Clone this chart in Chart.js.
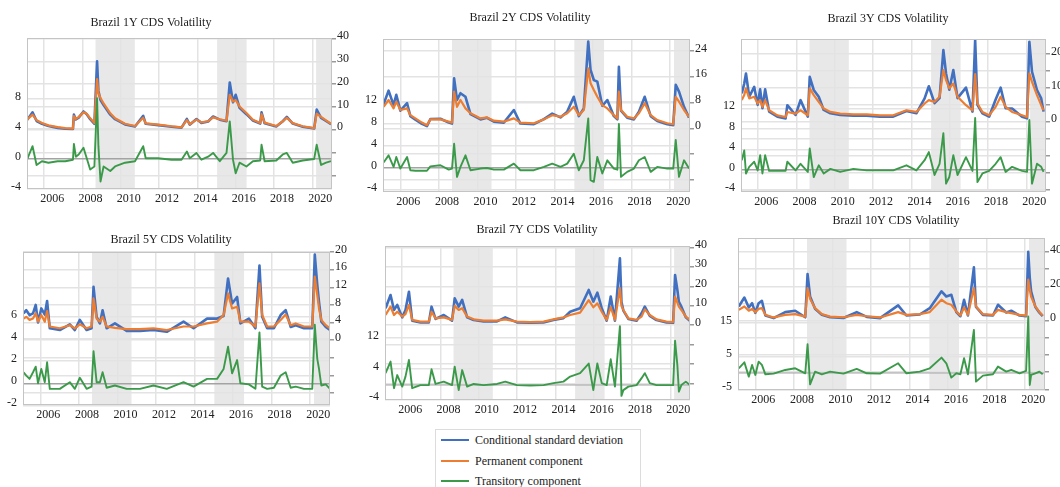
<!DOCTYPE html>
<html><head><meta charset="utf-8">
<script src="https://cdn.jsdelivr.net/npm/chart.js@4.4.1/dist/chart.umd.min.js"></script>
<style>
html,body{margin:0;padding:0;width:1060px;height:487px;overflow:hidden;background:#fff;}
canvas{position:absolute;}
#legend{position:absolute;left:435px;top:429px;width:204px;height:70px;border:1px solid #dcdcdc;background:#fff;font-family:'Liberation Serif','Times New Roman',serif;font-size:12px;color:#222;}
.row{position:absolute;left:0;width:200px;height:16px;}
.sw{position:absolute;left:5px;width:28px;height:2px;top:7px;}
.lab{position:absolute;left:39px;top:0;line-height:16px;white-space:nowrap;}
</style></head><body>
<div id="legend"></div>
<script>
// ---------- DATA ----------
const seriesNames = ['Conditional standard deviation', 'Permanent component', 'Transitory component'];
const xTickYears = [2006, 2008, 2010, 2012, 2014, 2016, 2018, 2020];
const shadedPeriods = [[2008.68, 2010.73], [2015.03, 2016.57], [2020.2, 2021.2]];

// Brazil 1Y
const d1 = [2005.10,2005.39,2005.60,2005.88,2006.22,2006.70,2007.10,2007.50,2007.55,2007.65,2007.80,2008.05,2008.22,2008.40,2008.62,2008.76,2008.83,2008.94,2009.10,2009.45,2009.70,2010.22,2010.74,2011.17,2011.30,2011.95,2012.65,2013.17,2013.45,2013.60,2013.95,2014.21,2014.56,2014.82,2015.17,2015.52,2015.69,2015.86,2016.00,2016.20,2016.56,2016.90,2017.28,2017.35,2017.51,2018.12,2018.46,2018.67,2018.98,2019.50,2020.10,2020.23,2020.46,2020.72,2020.98];
const cond1 = [4.2,7.6,3.8,2.6,1.6,0.8,0.4,0.3,6.6,4.5,5.3,8.0,6.8,4.6,2.6,30,17,13.0,10.8,6.6,4.6,2.3,1.4,6.1,2.6,2.0,1.3,0.9,4.7,2.2,4.7,3.0,3.6,5.8,4.4,3.7,20.7,12.0,15.3,9.6,6.8,4.0,2.7,7.6,2.8,1.4,3.7,5.6,2.7,1.3,0.5,8.8,5.2,3.8,2.4];
const perm1 = [4.4,6.6,4.2,2.9,1.9,1.1,0.7,0.5,6.0,4.8,5.5,7.6,7.0,5.0,2.9,22.2,16,13.9,11.5,7.2,5.0,2.6,1.6,5.2,2.8,2.2,1.5,1.0,4.2,2.4,4.4,3.2,3.7,5.4,4.6,3.9,15.3,12.4,13.0,10.2,7.3,4.4,2.9,6.8,3.1,1.6,3.7,5.2,2.9,1.5,0.7,7.0,5.6,4.1,2.6];
const trans1 = [-0.1,1.7,-0.8,-0.3,-0.5,-0.3,-0.3,-0.1,2.0,0.3,0.6,1.5,0.1,-1.4,-1.0,8.1,1.7,-3.0,-1.0,-1.6,-1.0,-0.5,-0.3,1.7,0.1,0.1,-0.1,-0.1,1.0,0.1,0.8,-0.1,0.3,0.8,-0.3,0.8,5.0,-0.1,-1.9,-0.5,-1.0,-0.3,-0.2,1.9,-0.3,-0.2,0.6,0.8,-0.5,-0.2,0.0,1.9,-0.8,-0.5,-0.3];
const leftLabels1 = [-4, 0, 4, 8];
const rightTicks1 = [-20, -10, 0, 10, 20, 30, 40];
const rightLabels1 = [0, 10, 20, 30, 40];

// Brazil 2Y
const d2 = [2005.13,2005.39,2005.65,2005.79,2006.00,2006.35,2006.52,2006.78,2007.12,2007.38,2007.56,2008.08,2008.51,2008.68,2008.79,2008.94,2009.12,2009.38,2009.64,2010.16,2010.50,2010.85,2011.37,2011.89,2012.23,2012.93,2013.45,2013.88,2014.31,2014.66,2015.00,2015.26,2015.52,2015.75,2015.87,2016.04,2016.22,2016.48,2016.74,2017.08,2017.26,2017.34,2017.45,2017.77,2018.12,2018.38,2018.68,2018.99,2019.33,2019.85,2020.16,2020.29,2020.46,2020.72,2020.98];
const cond2 = [7.5,11.7,7.2,10.4,5.5,7.8,3.8,2.7,1.4,0.7,2.9,3.0,1.8,1.5,15.5,8.8,10.9,9.8,4.4,2.8,3.3,2.1,1.8,5.7,1.5,1.3,2.9,4.6,3.4,5.2,9.8,3.8,6.2,26.9,18.1,15.0,14.5,7.0,8.8,3.8,2.8,19.1,5.5,3.3,2.8,5.2,9.8,3.8,2.3,1.3,1.0,13.5,11.4,6.7,3.3];
const perm2 = [6.7,8.8,6.2,8.3,5.7,6.2,4.1,3.1,1.8,1.0,2.8,2.8,2.1,1.8,11.4,6.7,8.8,6.2,4.7,3.1,3.4,2.4,2.1,3.1,1.8,1.6,2.8,4.1,3.6,4.7,6.7,4.1,5.7,18.6,14.0,11.9,9.8,7.2,6.2,4.1,3.1,11.4,5.7,3.6,3.1,4.7,7.8,4.1,2.6,1.6,1.3,9.8,8.3,5.7,3.6];
const trans2 = [1.0,2.3,0.2,2.0,-0.1,2.0,-0.4,-0.5,-0.5,-0.5,0.3,0.5,-0.3,-0.1,4.4,-1.6,0.2,2.3,-0.4,-0.1,0.0,-0.3,-0.3,0.8,-0.4,-0.4,0.2,0.8,0.2,0.8,2.6,-0.4,1.4,9.0,-2.2,-2.5,2.0,-1.0,1.4,-0.1,-0.3,8.0,-1.6,-0.7,-0.1,1.4,2.0,-0.7,0.2,-0.1,-0.1,5.1,-1.6,1.4,-0.1];
const leftLabels2 = [-4, 0, 4, 8, 12];
const rightTicks2 = [-16, -8, 0, 8, 16, 24];
const rightLabels2 = [0, 8, 16, 24];

// Brazil 3Y
const d3 = [2005.14,2005.27,2005.36,2005.53,2005.79,2005.97,2006.10,2006.22,2006.36,2006.57,2007.00,2007.43,2007.52,2007.95,2008.21,2008.59,2008.69,2008.90,2009.16,2009.42,2009.77,2010.28,2010.97,2011.66,2012.36,2013.05,2013.74,2014.26,2014.69,2014.91,2015.21,2015.47,2015.67,2015.81,2015.98,2016.19,2016.41,2016.85,2017.19,2017.33,2017.45,2017.71,2018.06,2018.40,2018.66,2018.92,2019.26,2019.78,2020.04,2020.16,2020.30,2020.56,2020.78,2020.90];
const cond3 = [8.4,11.3,14.3,7.4,10.3,5.0,9.6,4.0,9.6,3.0,1.5,1.0,4.9,2.0,6.4,1.5,13.3,9.4,7.4,3.5,2.5,2.0,1.8,1.8,1.5,1.5,3.2,2.5,6.9,10.5,5.5,7.0,21.2,14.3,9.5,15.3,7.0,10.1,3.0,24.2,5.0,2.5,1.5,6.6,10.1,4.0,3.9,1.5,1.0,23.7,14.8,9.4,6.9,3.0];
const perm3 = [6.4,7.9,9.9,6.9,7.4,5.4,6.4,4.4,6.4,3.4,1.9,1.4,2.9,2.4,3.4,1.9,9.9,7.9,5.9,3.9,2.9,2.4,2.2,2.2,1.9,1.9,3.4,2.9,5.4,6.4,5.9,7.4,15.3,12.3,9.9,11.3,7.4,4.9,3.4,14.1,5.4,2.9,1.9,4.4,7.4,4.4,2.9,1.9,1.4,14.3,11.8,7.9,4.9,3.4];
const trans3 = [1.9,3.8,-0.7,0.6,1.6,-0.1,2.9,-0.7,2.9,-0.2,-0.2,-0.2,1.6,-0.1,1.2,-0.4,4.2,-1.4,0.9,-0.7,0.2,-0.4,0.2,-0.1,-0.1,-0.1,0.9,-0.1,1.9,3.5,-1.0,1.2,7.2,-2.7,-1.4,2.9,-1.0,2.5,-0.2,10.2,-2.4,-0.7,-0.2,1.2,2.5,-0.4,0.6,-0.2,-0.4,9.8,-2.7,1.2,0.6,-0.4];
const leftLabels3 = [-4, 0, 4, 8, 12];
const rightTicks3 = [-20, -15, -10, -5, 0, 5, 10, 15, 20];
const rightLabels3 = [0, 10, 20];

// Brazil 5Y
const d4 = [2005.13,2005.27,2005.44,2005.62,2005.76,2005.88,2006.05,2006.23,2006.35,2006.49,2007.01,2007.53,2007.79,2008.05,2008.40,2008.66,2008.76,2008.92,2009.09,2009.23,2009.44,2009.87,2010.48,2011.17,2011.87,2012.56,2013.43,2013.95,2014.65,2015.17,2015.51,2015.74,2015.95,2016.21,2016.38,2016.82,2017.16,2017.37,2017.51,2017.77,2018.12,2018.47,2018.73,2018.99,2019.25,2019.68,2020.11,2020.24,2020.37,2020.46,2020.58,2020.81,2021.03];
const cond4 = [6.1,6.8,5.7,6.1,8.0,4.0,7.2,5.8,8.9,2.7,2.3,3.6,2.3,4.6,2.3,2.7,12.1,5.3,3.8,6.8,2.7,3.8,2.1,2.1,2.3,1.9,4.2,2.7,4.9,4.9,5.5,14.0,8.3,9.8,3.8,4.9,2.7,16.9,5.3,2.7,2.7,5.7,6.8,3.0,3.4,2.7,2.7,19.4,12.5,8.7,4.2,3.0,2.3];
const perm4 = [4.9,5.3,4.6,4.9,6.1,4.2,5.7,4.2,6.6,3.1,2.7,3.4,2.7,3.6,2.7,3.1,9.5,4.9,4.2,5.3,3.1,2.8,2.5,2.5,2.7,2.3,3.1,3.1,3.8,4.2,5.7,10.6,7.2,7.6,4.2,4.2,3.1,12.9,5.7,3.1,3.1,4.6,5.8,3.4,3.8,3.1,3.1,14.4,10.2,7.2,4.6,3.4,2.7];
const trans4 = [1.0,0.7,0.4,1.0,1.5,0.0,1.3,0.1,1.9,-0.5,-0.5,0.1,-0.5,0.5,-0.5,-0.3,2.9,0.1,0.1,1.0,-0.4,-0.2,-0.5,-0.5,-0.2,-0.5,0.1,-0.3,0.4,0.4,1.3,3.3,0.9,2.1,0.0,-0.1,-0.5,4.6,-0.3,-0.5,-0.4,0.7,1.0,-0.4,-0.3,-0.5,-0.5,5.3,2.2,1.3,-0.2,-0.1,-0.5];
const leftLabels4 = [-2, 0, 2, 4, 6];
const rightTicks4 = [-12, -8, -4, 0, 4, 8, 12, 16, 20];
const rightLabels4 = [0, 4, 8, 12, 16, 20];

// Brazil 7Y
const d5 = [2005.13,2005.39,2005.57,2005.74,2006.00,2006.17,2006.35,2006.52,2006.95,2007.39,2007.53,2007.74,2008.17,2008.60,2008.74,2008.95,2009.13,2009.39,2009.73,2010.25,2010.95,2011.38,2011.99,2012.68,2013.38,2013.90,2014.42,2014.77,2015.29,2015.74,2015.98,2016.19,2016.42,2016.68,2016.89,2017.11,2017.37,2017.45,2017.55,2017.81,2018.24,2018.50,2018.67,2018.93,2019.28,2019.80,2020.15,2020.25,2020.37,2020.45,2020.58,2020.81,2021.02];
const cond5 = [8.7,15.5,7.8,10.4,4.0,7.8,17.2,2.3,1.4,1.4,9.5,3.2,5.2,2.3,13.8,9.5,13.0,4.0,2.6,1.9,1.9,4.0,1.4,1.2,1.4,2.7,3.6,6.9,8.7,18.1,12.1,16.7,8.7,2.3,14.7,2.3,34.4,12.0,7.5,3.2,2.3,6.1,9.5,4.8,2.6,1.4,1.2,25.8,18.1,12.0,9.5,4.0,2.3];
const perm5 = [5.2,9.5,5.2,6.9,4.4,5.7,10.4,2.7,1.8,1.8,6.9,3.5,4.0,2.7,9.9,7.8,8.7,4.4,3.0,2.3,2.3,3.0,1.8,1.6,1.8,3.0,4.0,5.2,6.4,12.9,9.2,11.2,6.9,2.7,9.2,2.7,19.0,10.0,7.8,3.5,2.7,4.4,8.1,5.2,3.0,1.8,1.6,14.7,11.6,9.5,7.8,4.4,2.7];
const trans5 = [2.9,5.9,-1.0,2.4,-0.6,2.0,6.3,-1.0,-0.2,-0.2,3.9,0.1,0.7,-0.2,4.6,-1.5,3.7,-0.6,0.1,-0.2,0.1,0.7,-0.2,-0.3,-0.2,0.3,0.7,2.0,2.9,5.4,-1.5,5.4,0.3,-0.2,6.5,-0.6,15.1,-3.0,-1.5,-0.6,-0.2,1.6,2.9,0.3,-0.2,-0.2,-0.2,11.3,5.0,-1.9,-0.2,0.7,-0.2];
const leftLabels5 = [-4, 4, 12];
const rightTicks5 = [-30, -20, -10, 0, 10, 20, 30, 40];
const rightLabels5 = [0, 10, 20, 30, 40];

// Brazil 10Y
const d6 = [2005.14,2005.43,2005.66,2005.83,2006.00,2006.17,2006.34,2006.52,2006.95,2007.55,2008.07,2008.59,2008.71,2008.84,2009.10,2009.45,2009.88,2010.57,2011.26,2011.78,2012.47,2013.41,2013.84,2014.53,2015.05,2015.66,2015.91,2016.17,2016.43,2016.64,2016.83,2017.03,2017.34,2017.45,2017.81,2018.33,2018.59,2019.02,2019.28,2019.71,2020.05,2020.16,2020.24,2020.31,2020.53,2020.74,2020.91];
const cond6 = [8.3,13.5,7.7,10.2,4.6,10.2,11.6,3.0,1.5,5.0,5.8,2.0,27.2,14.1,7.0,3.4,2.0,1.6,5.0,2.2,1.5,8.9,3.0,3.6,7.3,17.1,14.1,15.1,5.0,2.6,12.2,3.0,31.1,8.0,3.4,3.0,9.3,4.8,5.8,3.0,2.6,40.1,25.0,17.1,8.0,4.7,2.6];
const perm6 = [6.3,8.3,5.8,6.9,5.0,6.9,7.3,3.4,1.9,3.4,3.8,2.4,19.0,12.8,7.3,3.8,2.4,2.0,3.4,2.6,1.9,5.0,3.4,3.8,5.0,12.2,10.2,9.3,5.4,3.0,7.7,3.4,19.0,8.3,3.8,3.4,6.3,5.0,4.4,3.4,3.0,23.9,18.0,14.1,8.3,5.0,3.0];
const trans6 = [1.4,3.2,-1.1,2.4,-0.6,3.4,2.4,-0.4,-0.2,0.9,1.4,-0.1,8.6,-3.4,0.4,-0.4,0.4,-0.2,1.2,-0.1,-0.2,2.9,-0.1,0.4,1.4,4.6,2.9,-1.4,-0.1,-0.4,4.4,-0.4,12.9,-2.6,-0.8,-0.4,1.9,0.4,0.9,-0.1,0.6,16.9,-3.6,-0.6,-0.1,0.4,-0.4];
const leftLabels6 = [-5, 5, 15];
const rightTicks6 = [-40, -30, -20, -10, 0, 10, 20, 30, 40];
const rightLabels6 = [0, 20, 40];

// ---------- STYLE / LAYOUT ----------
const COLORS = ['#4170c0', '#ed7d31', '#3b9a4a'];
const FONT = "'Liberation Serif', 'Times New Roman', serif";
const TEXT = '#222';
const GRID = '#e3e3e3';
const ZERO = '#a3a3a3';
const LW = 22, RW = 30, XH = 22;

const panels = [
  {title:'Brazil 1Y CDS Volatility', tx:151, ty:23, L:27, T:38, R:332, B:189,
   dates:d1, cond:cond1, perm:perm1, trans:trans1, lmin:-4, lmax:16.1, lLab:leftLabels1, rmin:-26, rmax:40.2, rTicks:rightTicks1, rLab:rightLabels1},
  {title:'Brazil 2Y CDS Volatility', tx:530, ty:18, L:383, T:39, R:690, B:192,
   dates:d2, cond:cond2, perm:perm2, trans:trans2, lmin:-4.35, lmax:23.4, lLab:leftLabels2, rmin:-19.7, rmax:27.7, rTicks:rightTicks2, rLab:rightLabels2},
  {title:'Brazil 3Y CDS Volatility', tx:888, ty:19, L:741, T:39, R:1046, B:192,
   dates:d3, cond:cond3, perm:perm3, trans:trans3, lmin:-4.34, lmax:25.7, lLab:leftLabels3, rmin:-20.8, rmax:24.5, rTicks:rightTicks3, rLab:rightLabels3},
  {title:'Brazil 5Y CDS Volatility', tx:171, ty:240, L:23, T:252, R:330, B:405,
   dates:d4, cond:cond4, perm:perm4, trans:trans4, lmin:-1.96, lmax:11.86, lLab:leftLabels4, rmin:-14.7, rmax:20.0, rTicks:rightTicks4, rLab:rightLabels4},
  {title:'Brazil 7Y CDS Volatility', tx:537, ty:230, L:385, T:246, R:690, B:400,
   dates:d5, cond:cond5, perm:perm5, trans:trans5, lmin:-4.07, lmax:35.9, lLab:leftLabels5, rmin:-38.5, rmax:40.7, rTicks:rightTicks5, rLab:rightLabels5},
  {title:'Brazil 10Y CDS Volatility', tx:896, ty:221, L:738, T:238, R:1045, B:390,
   dates:d6, cond:cond6, perm:perm6, trans:trans6, lmin:-5.1, lmax:40.4, lLab:leftLabels6, rmin:-40.4, rmax:48.2, rTicks:rightTicks6, rLab:rightLabels6}
];

const decor = {
  id: 'decor',
  beforeDraw(chart, args, opts) {
    const {ctx, chartArea: a, scales: {x}} = chart;
    ctx.save();
    ctx.fillStyle = '#e8e8e8';
    shadedPeriods.forEach(([s, e]) => {
      const x0 = Math.max(a.left, x.getPixelForValue(s));
      const x1 = Math.min(a.right, x.getPixelForValue(e));
      if (x1 > x0) ctx.fillRect(x0, a.top, x1 - x0, a.bottom - a.top);
    });
    ctx.restore();
  },
  afterDraw(chart, args, opts) {
    const {ctx, chartArea: a} = chart;
    ctx.save();
    ctx.strokeStyle = '#c4c4c4';
    ctx.lineWidth = 1;
    ctx.strokeRect(Math.round(a.left) + 0.5, Math.round(a.top) + 0.5, Math.round(a.right - a.left) - 1, Math.round(a.bottom - a.top) - 1);
    ctx.fillStyle = TEXT;
    ctx.font = '12px ' + FONT;
    ctx.textAlign = 'center';
    ctx.textBaseline = 'middle';
    ctx.fillText(opts.title, opts.tx, opts.ty);
    ctx.restore();
  }
};

const tickFont = {family: FONT, size: 12};

panels.forEach(p => {
  const left = p.L - LW;
  const top = p.ty - 12;
  const w = LW + (p.R - p.L) + RW;
  const h = (p.B - top) + XH;
  const cv = document.createElement('canvas');
  cv.width = w; cv.height = h;
  cv.style.left = left + 'px'; cv.style.top = top + 'px';
  cv.style.width = w + 'px'; cv.style.height = h + 'px';
  document.body.appendChild(cv);
  const pts = arr => p.dates.map((d, i) => ({x: d, y: arr[i]}));
  const leftTicks = Array.from(new Set(p.lLab.concat([0]))).sort((a, b) => a - b);
  const lineCommon = {pointRadius: 0, tension: 0, borderJoinStyle: 'round'};
  new Chart(cv, {
    type: 'line',
    data: {
      datasets: [
        Object.assign({label: seriesNames[0], data: pts(p.cond), yAxisID: 'yR', borderColor: COLORS[0], borderWidth: 2.6, order: 2}, lineCommon),
        Object.assign({label: seriesNames[1], data: pts(p.perm), yAxisID: 'yR', borderColor: COLORS[1], borderWidth: 2.2, order: 1}, lineCommon),
        Object.assign({label: seriesNames[2], data: pts(p.trans), yAxisID: 'yL', borderColor: COLORS[2], borderWidth: 1.9, order: 0}, lineCommon)
      ]
    },
    options: {
      responsive: false, animation: false, devicePixelRatio: 1,
      layout: {padding: {top: p.T - top, left: 0, right: 0, bottom: 0}},
      plugins: {
        legend: {display: false}, tooltip: {enabled: false}, title: {display: false},
        decor: {title: p.title, tx: p.tx - left, ty: p.ty - top}
      },
      scales: {
        x: {
          type: 'linear', min: 2005.1, max: 2021.03,
          afterBuildTicks: s => { s.ticks = xTickYears.map(v => ({value: v})); },
          afterFit: s => { s.height = XH; },
          grid: {color: GRID, lineWidth: 1.5, drawTicks: false},
          border: {display: false},
          ticks: {font: tickFont, color: TEXT, padding: 3, labelOffset: 8, maxRotation: 0, autoSkip: false, callback: v => String(v)}
        },
        yL: {
          type: 'linear', position: 'left', min: p.lmin, max: p.lmax,
          afterBuildTicks: s => { s.ticks = leftTicks.map(v => ({value: v})); },
          afterFit: s => { s.width = LW; },
          grid: {color: c => (c.tick && c.tick.value === 0) ? ZERO : GRID, lineWidth: 1.5, drawTicks: false},
          border: {display: false},
          ticks: {font: tickFont, color: TEXT, padding: 6, labelOffset: -2.5, autoSkip: false, callback: v => p.lLab.includes(v) ? String(v) : ''}
        },
        yR: {
          type: 'linear', position: 'right', min: p.rmin, max: p.rmax,
          afterBuildTicks: s => { s.ticks = p.rTicks.map(v => ({value: v})); },
          afterFit: s => { s.width = RW; },
          grid: {color: GRID, lineWidth: 1.5, drawTicks: true, tickLength: 4, tickColor: '#9a9a9a', drawOnChartArea: true},
          border: {display: false},
          ticks: {font: tickFont, color: TEXT, padding: 1, labelOffset: -2.5, autoSkip: false, callback: v => p.rLab.includes(v) ? String(v) : ''}
        }
      }
    },
    plugins: [decor]
  });
});

// legend (HTML)
const lg = document.getElementById('legend');
seriesNames.forEach((name, i) => {
  const row = document.createElement('div');
  row.className = 'row';
  row.style.top = (2 + i * 20.7) + 'px';
  row.innerHTML = '<span class="sw" style="background:' + COLORS[i] + '"></span><span class="lab">' + name + '</span>';
  lg.appendChild(row);
});
</script>
</body></html>
